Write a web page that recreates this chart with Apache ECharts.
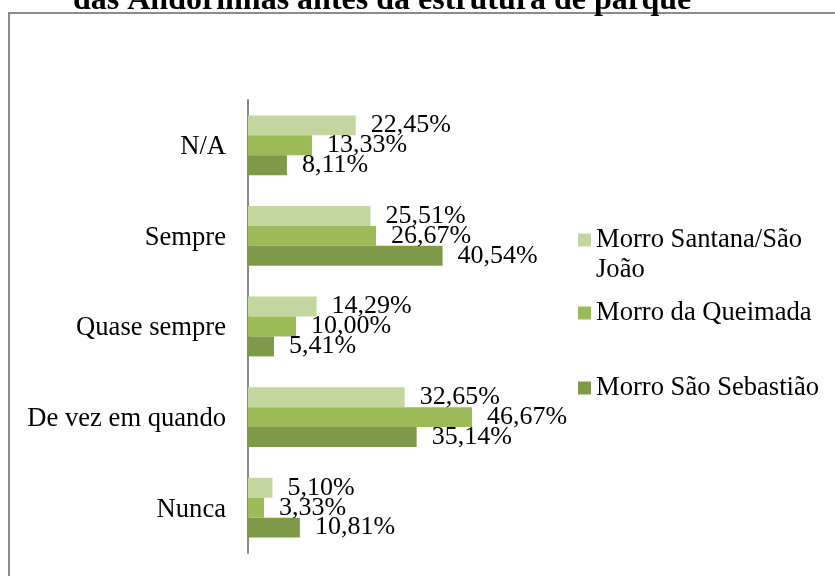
<!DOCTYPE html>
<html>
<head>
<meta charset="utf-8">
<script src="https://cdn.jsdelivr.net/npm/echarts@6/dist/echarts.min.js"></script>
<style>
  html, body { margin: 0; padding: 0; background: #fff; }
  #chart { width: 835px; height: 576px; }
</style>
</head>
<body>
<div id="chart"></div>
<script>
var categories = ['N/A', 'Sempre', 'Quase sempre', 'De vez em quando', 'Nunca'];
var santana = [22.45, 25.51, 14.29, 32.65, 5.10];
var queimada = [13.33, 26.67, 10.00, 46.67, 3.33];
var sebastiao = [8.11, 40.54, 5.41, 35.14, 10.81];
var seriesNames = ['Morro Santana/São João', 'Morro da Queimada', 'Morro São Sebastião'];
var colorList = ['#c4d69f', '#9bbb59', '#7e9a48'];
var font = '"Liberation Serif", "Times New Roman", serif';

var chart = echarts.init(document.getElementById('chart'));

function makeSeries(name, data, color) {
  return {
    name: name,
    type: 'bar',
    data: data,
    barGap: '0%',
    barCategoryGap: '34%',
    itemStyle: { color: color },
    label: {
      show: true,
      position: 'right',
      distance: 15,
      color: '#000',
      fontFamily: font,
      fontSize: 26,
      formatter: function (p) {
        return p.value.toFixed(2).replace('.', ',') + '%';
      }
    }
  };
}

// one legend per item so each can sit where the original has it
function makeLegend(name, top) {
  return {
    data: [name],
    orient: 'vertical',
    left: 578,
    top: top,
    padding: 0,
    icon: 'rect',
    itemWidth: 13,
    itemHeight: 13,
    selectedMode: false,
    textStyle: { fontFamily: font, fontSize: 26.6, color: '#000', lineHeight: 30 },
    formatter: function (n) {
      // leading blank line keeps the icon beside the first line of text
      return n === 'Morro Santana/São João' ? '\nMorro Santana/São\nJoão' : n;
    }
  };
}

chart.setOption({
  animation: false,
  title: {
    text: 'das Andorinhas antes da estrutura de parque',
    left: 73,
    top: -15,
    padding: 0,
    textStyle: { fontFamily: font, fontSize: 32, fontWeight: 'bold', color: '#000' }
  },
  graphic: [{
    type: 'rect',
    shape: { x: 9, y: 13, width: 900, height: 620 },
    style: { fill: 'none', stroke: '#8c8c8c', lineWidth: 2 },
    z: -1
  }],
  legend: [
    makeLegend(seriesNames[0], 195),
    makeLegend(seriesNames[1], 298),
    makeLegend(seriesNames[2], 373)
  ],
  grid: { left: 248, top: 100, width: 240, height: 453 },
  xAxis: {
    type: 'value',
    min: 0,
    max: 50,
    show: false
  },
  yAxis: {
    type: 'category',
    inverse: true,
    data: categories,
    axisLine: { lineStyle: { color: '#888', width: 2 } },
    axisTick: { show: false },
    axisLabel: {
      margin: 22,
      formatter: function (v) { return '{c|' + v + '}'; },
      rich: {
        c: { color: '#000', fontFamily: font, fontSize: 26.6, padding: [4, 0, 0, 0] }
      }
    }
  },
  series: [
    makeSeries(seriesNames[0], santana, colorList[0]),
    makeSeries(seriesNames[1], queimada, colorList[1]),
    makeSeries(seriesNames[2], sebastiao, colorList[2])
  ]
});
</script>
</body>
</html>
